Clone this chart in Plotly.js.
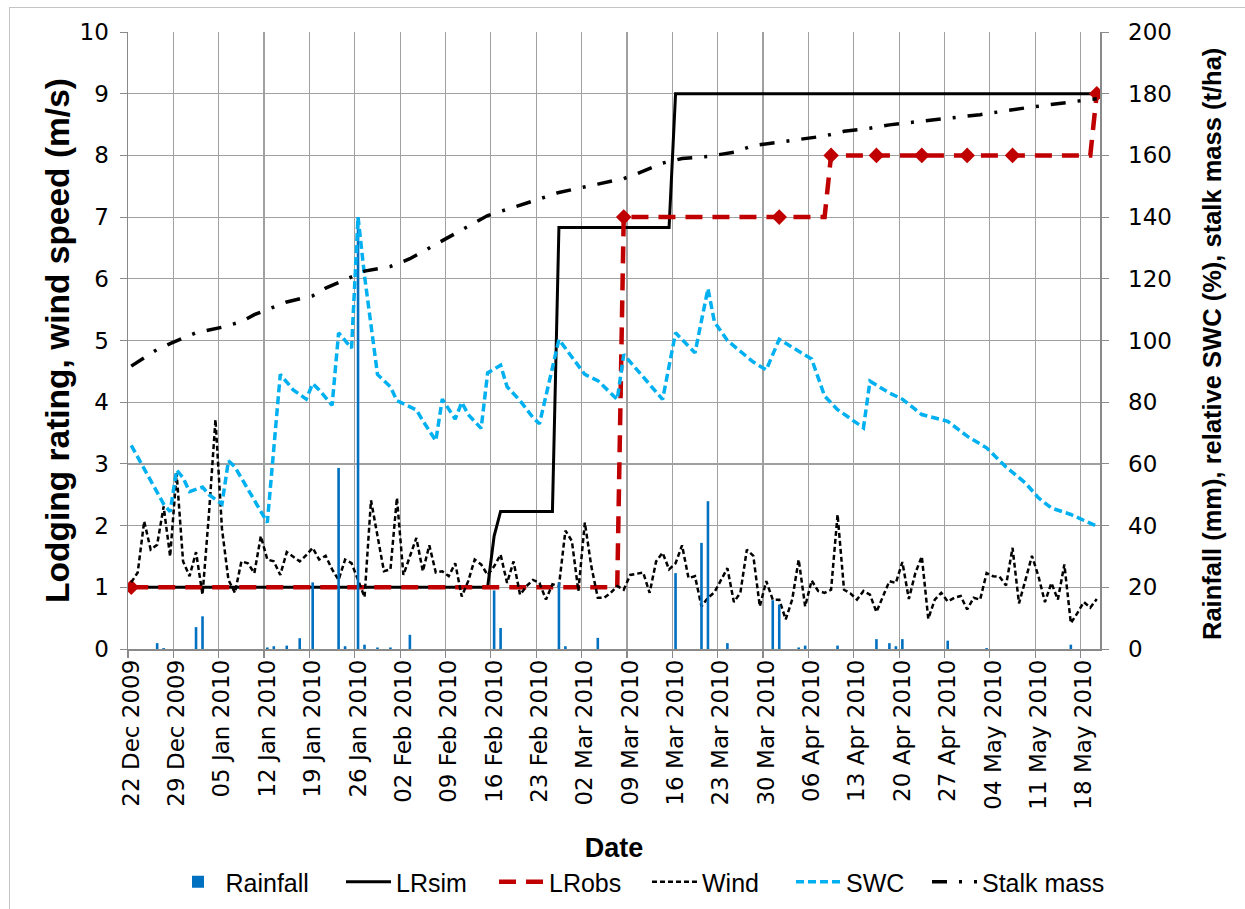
<!DOCTYPE html>
<html>
<head>
<meta charset="utf-8">
<script src="https://cdn.plot.ly/plotly-3.0.1.min.js"></script>
<style>
  html, body { margin: 0; padding: 0; overflow: hidden; background: #fff; }
  #chart { width: 1245px; height: 909px; }
  #frame { position: absolute; left: 9px; top: 7px; width: 1260px; height: 920px;
           border-left: 1.5px solid #c4c4c4; border-top: 1.5px solid #c4c4c4; pointer-events: none; }
</style>
</head>
<body>
<div id="chart"></div>
<div id="frame"></div>
<script>
// ---------------- DATA ----------------
// Daily series start on this date; day offsets below count from it.
const startDate = '2009-12-22';

// Wind speed (m/s), one value per day from 22 Dec 2009 to 20 May 2010
const windValues = [
  1.08, 1.24, 2.07, 1.61, 1.69, 2.31, 1.50, 2.85, 1.42, 1.18,
  1.57, 0.88, 2.20, 3.72, 1.95, 1.12, 0.91, 1.42, 1.39, 1.23,
  1.83, 1.45, 1.42, 1.20, 1.57, 1.50, 1.42, 1.52, 1.64, 1.45,
  1.51, 1.29, 1.12, 1.45, 1.39, 1.12, 0.84, 2.41, 1.83, 1.26,
  1.29, 2.45, 1.20, 1.50, 1.80, 1.26, 1.68, 1.24, 1.26, 1.18,
  1.39, 0.85, 1.10, 1.45, 1.37, 1.20, 1.34, 1.53, 1.07, 1.42,
  0.88, 1.02, 1.12, 1.07, 0.80, 1.05, 1.02, 1.92, 1.75, 0.94,
  2.05, 1.34, 0.83, 0.83, 0.91, 1.02, 0.96, 1.20, 1.22, 1.24,
  0.91, 1.42, 1.56, 1.29, 1.39, 1.68, 1.15, 1.18, 0.69, 0.83,
  0.92, 1.12, 1.31, 0.76, 0.91, 1.61, 1.51, 0.69, 1.10, 0.80,
  0.80, 0.48, 0.80, 1.45, 0.69, 1.11, 0.94, 0.91, 0.96, 2.18,
  0.96, 0.90, 0.80, 0.94, 0.88, 0.60, 0.85, 1.10, 1.07, 1.41,
  0.81, 1.23, 1.50, 0.49, 0.80, 0.91, 0.77, 0.83, 0.86, 0.64,
  0.83, 0.80, 1.23, 1.18, 1.17, 1.03, 1.64, 0.74, 1.12, 1.51,
  1.18, 0.76, 1.07, 0.80, 1.37, 0.42, 0.58, 0.76, 0.67, 0.81
];

// Rainfall (mm)
const rainDays   = [4, 5, 10, 11, 21, 22, 24, 26, 28, 32, 33, 35, 36, 38, 40, 43, 56, 57, 66, 67,
                    72, 84, 88, 89, 92, 99, 100, 103, 104, 109, 115, 117, 118, 119, 126, 132, 145];
const rainValues = [1.9, 0.3, 7.1, 10.6, 0.5, 0.9, 1.1, 3.5, 21.6, 58.7, 0.9, 140, 1.4, 0.5, 0.5, 4.6, 19, 6.8, 21.6, 0.9,
                    3.6, 24.6, 34.4, 47.9, 1.9, 15.8, 14.4, 0.5, 1.1, 1.1, 3.2, 1.9, 0.9, 3.2, 2.7, 0.3, 1.4];

// Simulated lodging rating
const lrsimDays   = [0, 55, 56, 57, 65, 66, 83, 84, 149];
const lrsimValues = [1, 1, 1.83, 2.23, 2.23, 6.83, 6.83, 9, 9];

// Observed lodging rating: line and observation markers
const lrobsDays   = [0, 75, 76, 107, 108, 148, 149];
const lrobsValues = [1, 1, 7, 7, 8, 8, 9];
const obsDays     = [0, 76, 100, 108, 115, 122, 129, 136, 149];
const obsValues   = [1, 7, 7, 8, 8, 8, 8, 8, 9];

// Relative soil water content (%)
const swcDays   = [0, 5, 6, 7, 8, 9, 11, 12, 14, 15, 16, 21, 23, 25, 27, 28, 29, 31, 32, 34,
                   35, 36, 38, 40, 41, 44, 45, 47, 48, 50, 51, 52, 54, 55, 57, 58, 60, 62, 63, 65,
                   66, 70, 72, 75, 76, 82, 84, 87, 89, 90, 92, 96, 98, 100, 103, 105, 107, 109, 113, 114,
                   117, 119, 122, 126, 129, 132, 135, 137, 138, 140, 142, 145, 149];
const swcValues = [66, 47, 44.5, 58, 55.5, 51, 52.5, 50, 47, 61, 59, 41, 89, 84, 81, 86, 84, 79, 102.5, 97.5,
                   140, 121, 89, 85, 80.5, 77.5, 74, 67.5, 81, 74.5, 80, 76, 71.5, 89.5, 92, 85, 80.5, 75, 73, 91,
                   100.3, 89, 87, 80.9, 95.5, 80.9, 102.5, 96, 116.8, 106, 100, 93, 90.5, 100.4, 96.6, 94, 82, 77.6, 71.7, 86.8,
                   83, 81, 76, 73.8, 69, 65.2, 59, 55.5, 53.8, 49, 45.7, 43.6, 39.8];

// Stalk mass (t/ha)
const stalkDays   = [0, 4, 6, 10, 14, 17, 19, 24, 28, 30, 35, 36, 40, 43, 49, 55, 62, 66, 72, 76,
                     78, 82, 85, 89, 93, 96, 100, 103, 107, 110, 114, 117, 124, 131, 138, 145, 149];
const stalkValues = [91.7, 97.1, 99, 102.5, 104.3, 106.1, 108.4, 112.5, 114.5, 117, 121.5, 122.5, 124, 126.5, 133.5, 140.5, 145.2, 148, 150.7, 152.5,
                     154, 157.5, 159, 159.7, 161, 163.2, 164.3, 165.2, 166.3, 167.8, 168.8, 169.9, 171.5, 173.2, 175.4, 177.3, 178.4];

// Titles
const xTitle  = 'Date';
const y1Title = 'Lodging rating, wind speed (m/s)';
const y2Title = 'Rainfall (mm), relative SWC (%), stalk mass (t/ha)';

// ---------------- helpers ----------------
const DAY = 86400000;
const t0 = Date.parse(startDate + 'T00:00:00Z');
function dayToDate(d) { return new Date(t0 + d * DAY).toISOString().slice(0, 10); }
const toDates = arr => arr.map(dayToDate);
const windDates = windValues.map((_, i) => dayToDate(i));

// plot-area geometry (px) used to place legends / titles
const PL = 128, PR = 1100, PT = 32, PB = 649;
const px2x = p => (p - PL) / (PR - PL);
const px2y = p => (PB - p) / (PB - PT);

const GRID = '#a0a0a0';
const AXIS = '#8a8a8a';
const tickFont = { family: 'DejaVu Sans', size: 23, color: '#000' };
const legendFont = { family: 'Liberation Sans', size: 25, color: '#000' };

const traces = [
  { type: 'bar', name: 'Rainfall', legend: 'legend', x: toDates(rainDays), y: rainValues, yaxis: 'y2',
    width: 0.4 * DAY, marker: { color: '#0070C0', line: { width: 0 } } },
  { type: 'scatter', mode: 'lines', name: 'LRsim', legend: 'legend2', x: toDates(lrsimDays), y: lrsimValues,
    line: { color: '#000000', width: 3 } },
  { type: 'scatter', mode: 'lines', name: 'LRobs', legend: 'legend3', x: toDates(lrobsDays), y: lrobsValues,
    line: { color: '#C00000', width: 4.5, dash: '17px,10px' } },
  { type: 'scatter', mode: 'markers', name: 'LRobs', showlegend: false, x: toDates(obsDays), y: obsValues,
    marker: { symbol: 'diamond', size: 12, color: '#C00000' } },
  { type: 'scatter', mode: 'lines', name: 'Wind', legend: 'legend4', x: windDates, y: windValues,
    line: { color: '#000000', width: 2.5, dash: '5px,3px' } },
  { type: 'scatter', mode: 'lines', name: 'SWC', legend: 'legend5', x: toDates(swcDays), y: swcValues, yaxis: 'y2',
    line: { color: '#00B0F0', width: 3.5, dash: '8px,4px' } },
  { type: 'scatter', mode: 'lines', name: 'Stalk mass', legend: 'legend6', x: toDates(stalkDays), y: stalkValues, yaxis: 'y2',
    line: { color: '#000000', width: 3.5, dash: '15px,12px,3px,12px' } }
];

function legendAt(leftPx) {
  return { orientation: 'h', x: px2x(leftPx), xanchor: 'left', y: px2y(882), yanchor: 'middle',
           font: legendFont, bgcolor: 'rgba(0,0,0,0)', borderwidth: 0, itemwidth: 45 };
}

const layout = {
  width: 1245, height: 909,
  margin: { l: PL, r: 1245 - PR, t: PT, b: 909 - PB, autoexpand: false },
  paper_bgcolor: '#ffffff', plot_bgcolor: '#ffffff',
  showlegend: true,
  xaxis: {
    type: 'date',
    range: ['2009-12-21 12:00', '2010-05-20 12:00'],
    tickmode: 'linear', tick0: startDate, dtick: 7 * DAY,
    tickformat: '%d %b %Y', tickangle: -90,
    tickfont: tickFont,
    showgrid: false, ticks: '', zeroline: false,
    showline: true, linecolor: AXIS, linewidth: 1.5,
    minor: { tickmode: 'linear', tick0: '2009-12-21 12:00', dtick: 7 * DAY,
             showgrid: true, gridcolor: GRID, gridwidth: 1.2,
             ticks: 'outside', ticklen: 7, tickcolor: AXIS, tickwidth: 1.2 },
    title: { text: xTitle, font: { family: 'Liberation Sans', size: 27, color: '#000', weight: 'bold' }, standoff: 29 }
  },
  yaxis: {
    range: [0, 10], tickmode: 'linear', tick0: 0, dtick: 1,
    tickfont: tickFont, showgrid: true, gridcolor: GRID, gridwidth: 1.2,
    zeroline: false, showline: true, linecolor: AXIS, linewidth: 1.5,
    ticks: 'outside', ticklen: 7, tickcolor: AXIS, ticklabelstandoff: 6,
    title: { text: y1Title, font: { family: 'Liberation Sans', size: 33.5, color: '#000', weight: 'bold' }, standoff: 0 }
  },
  yaxis2: {
    overlaying: 'y', side: 'right',
    range: [0, 200], tickmode: 'linear', tick0: 0, dtick: 20,
    tickfont: tickFont, showgrid: false, zeroline: false,
    showline: true, linecolor: AXIS, linewidth: 1.5,
    ticks: 'outside', ticklen: 7, tickcolor: AXIS, ticklabelstandoff: 15
  },
  annotations: [
    { text: y2Title, xref: 'paper', yref: 'paper', x: px2x(1212), y: px2y(344),
      xanchor: 'center', yanchor: 'middle', textangle: -90, showarrow: false,
      font: { family: 'Liberation Sans', size: 25.5, color: '#000', weight: 'bold' } }
  ],
  legend:  legendAt(170.5),
  legend2: legendAt(341),
  legend3: legendAt(494),
  legend4: legendAt(647),
  legend5: legendAt(791),
  legend6: legendAt(927)
};

Plotly.newPlot('chart', traces, layout, { displayModeBar: false, staticPlot: true });
</script>
</body>
</html>
